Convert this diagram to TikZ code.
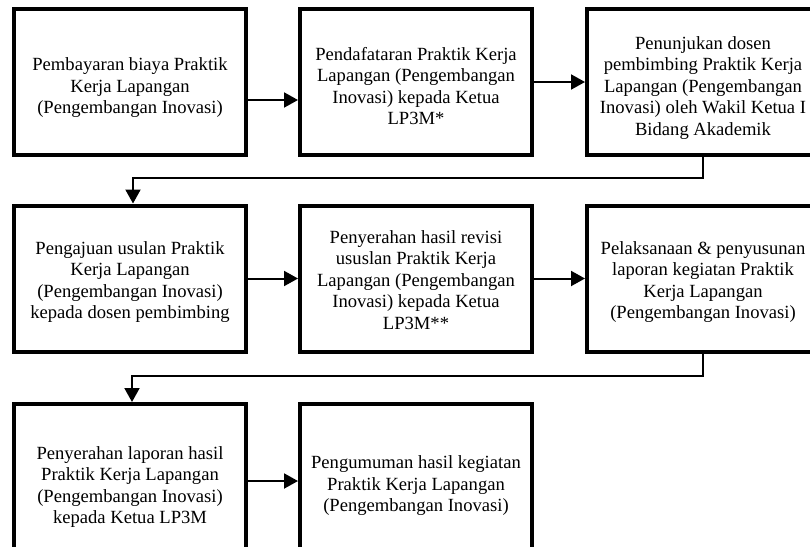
\documentclass[tikz,border=0pt]{standalone}
\usepackage{fontspec}
\setmainfont{Liberation Serif}
\usetikzlibrary{arrows.meta,positioning}
\newcommand\bxt[2]{\raisebox{#1}[\height][\depth]{\begin{tabular}{@{}c@{}}#2\end{tabular}}}
\begin{document}
\begin{tikzpicture}[x=1pt,y=-1pt,
  flowbox/.style={draw=black,line width=4pt,fill=white,inner sep=0pt,
    minimum width=232pt,minimum height=146pt,
    font=\fontsize{18.6}{21.5}\selectfont},
  tallbox/.style={flowbox,minimum height=160pt},
  arr/.style={line width=2pt,-{Triangle[length=14pt,width=15pt]}}]
\useasboundingbox (0,0) rectangle (810,546);
\clip (0,0) rectangle (810,546);
\fill[white] (0,0) rectangle (810,546);
% row 1
\node[flowbox] (b1) at (130,82) {\bxt{-6pt}{Pembayaran biaya Praktik\\Kerja Lapangan\\(Pengembangan Inovasi)}};
\node[flowbox] (b2) at (416,82) {\bxt{-6pt}{Pendafataran Praktik Kerja\\Lapangan (Pengembangan\\Inovasi) kepada Ketua\\LP3M*}};
\node[flowbox] (b3) at (703,82) {\bxt{-6pt}{Penunjukan dosen\\pembimbing Praktik Kerja\\Lapangan (Pengembangan\\Inovasi) oleh Wakil Ketua I\\Bidang Akademik}};
% row 2
\node[flowbox] (b4) at (130,278.5) {\bxt{-3.5pt}{Pengajuan usulan Praktik\\Kerja Lapangan\\(Pengembangan Inovasi)\\kepada dosen pembimbing}};
\node[flowbox] (b5) at (416,278.5) {\bxt{-3.5pt}{Penyerahan hasil revisi\\ususlan Praktik Kerja\\Lapangan (Pengembangan\\Inovasi) kepada Ketua\\LP3M**}};
\node[flowbox] (b6) at (703,278.5) {\bxt{-3.5pt}{Pelaksanaan \& penyusunan\\laporan kegiatan Praktik\\Kerja Lapangan\\(Pengembangan Inovasi)}};
% row 3
\node[tallbox] (b7) at (130,484) {\bxt{-3pt}{Penyerahan laporan hasil\\Praktik Kerja Lapangan\\(Pengembangan Inovasi)\\kepada Ketua LP3M}};
\node[tallbox] (b8) at (416,484) {\bxt{-2pt}{Pengumuman hasil kegiatan\\Praktik Kerja Lapangan\\(Pengembangan Inovasi)}};
% connectors
\draw[arr] ([yshift=-18pt]b1.east) -- ([yshift=-18pt]b2.west);
\draw[arr] (b2.east) -- (b3.west);
\draw[arr] (b3.south) -- ++(0,21) -| ([xshift=3pt]b4.north);
\draw[arr] (b4.east) -- (b5.west);
\draw[arr] (b5.east) -- (b6.west);
\draw[arr] (b6.south) -- ++(0,22) -| ([xshift=2pt]b7.north);
\draw[arr] ([yshift=3pt]b7.east) -- ([yshift=3pt]b8.west);
\end{tikzpicture}
\end{document}
